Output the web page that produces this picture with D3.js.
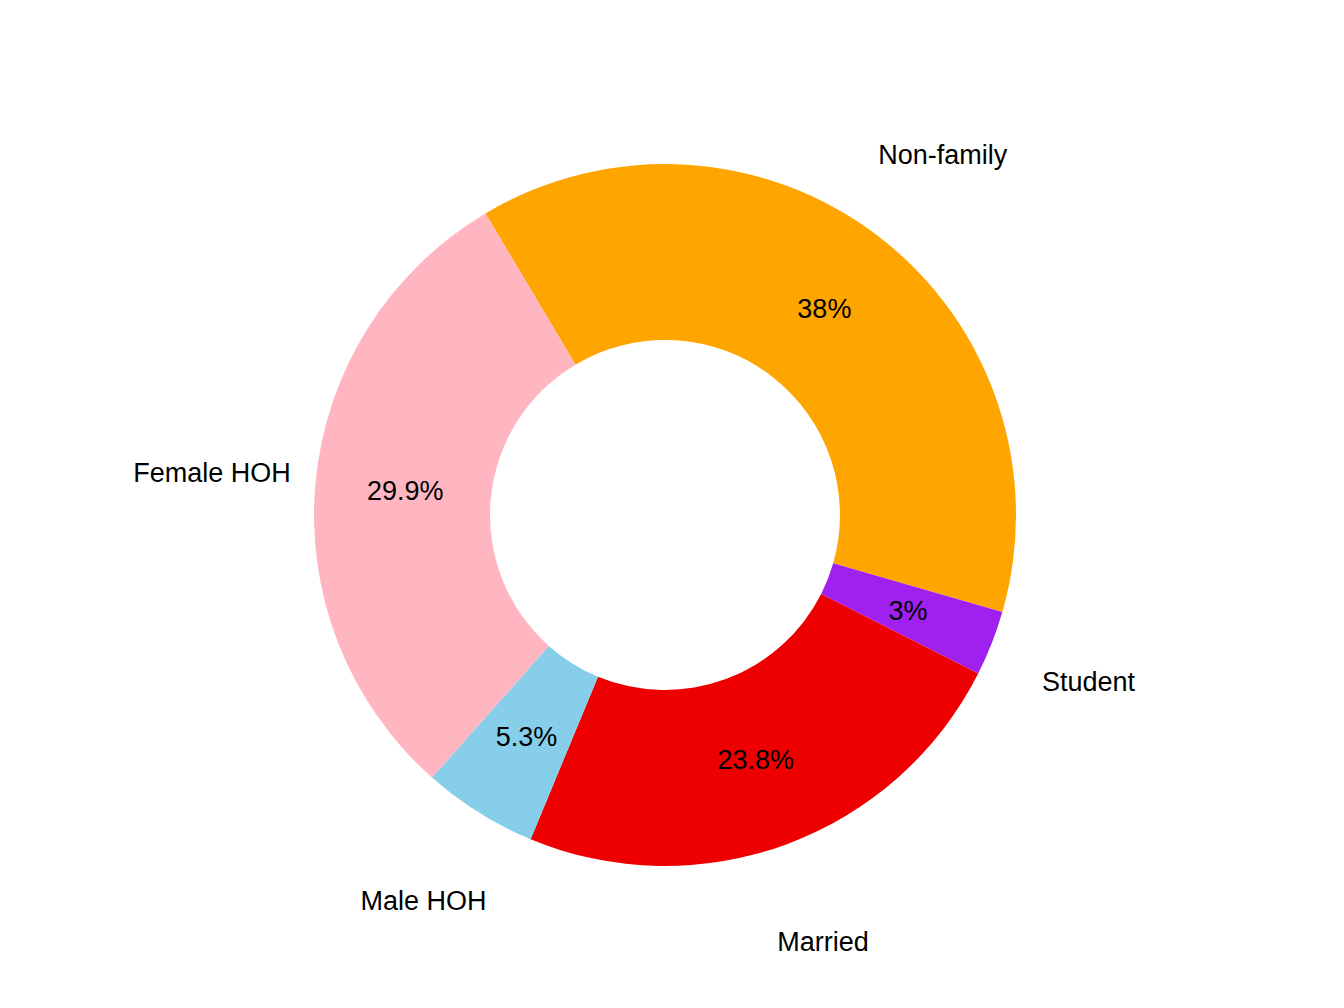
<!DOCTYPE html>
<html><head><meta charset="utf-8">
<script src="https://cdn.jsdelivr.net/npm/d3@7"></script>
<style>body{margin:0;background:#fff}text{font-family:Arial,"Liberation Sans",sans-serif;font-size:27px}</style>
</head><body><svg id="c" width="1344" height="1008"></svg>
<script>
const categories = ["Non-family","Student","Married","Male HOH","Female HOH"];
const values = [38, 3, 23.8, 5.3, 29.9];
const pctLabels = ["38%","3%","23.8%","5.3%","29.9%"];
const colors = ["#FFA500","#A020F0","#EE0000","#87CEEB","#FFB6C1"];

const svg = d3.select("#c");
const g = svg.append("g").attr("transform","translate(665,515)");
const start = -0.537;
const pie = d3.pie().sort(null).value(d=>d).startAngle(start).endAngle(start+2*Math.PI);
const arcs = pie(values);
const arc = d3.arc().innerRadius(175).outerRadius(351);
const mid = d3.arc().innerRadius(261).outerRadius(261);
const outer = d3.arc().innerRadius(455).outerRadius(455);
g.selectAll("path").data(arcs).join("path").attr("d",arc).attr("fill",(d,i)=>colors[i]);
g.selectAll("text.p").data(arcs).join("text").attr("class","p")
  .attr("transform",d=>`translate(${mid.centroid(d)})`).attr("text-anchor","middle").attr("dy","0.35em")
  .text((d,i)=>pctLabels[i]);
g.selectAll("text.c").data(arcs).join("text").attr("class","c")
  .attr("transform",d=>`translate(${outer.centroid(d)})`).attr("text-anchor","middle").attr("dy","0.35em")
  .text((d,i)=>categories[i]);
</script></body></html>
